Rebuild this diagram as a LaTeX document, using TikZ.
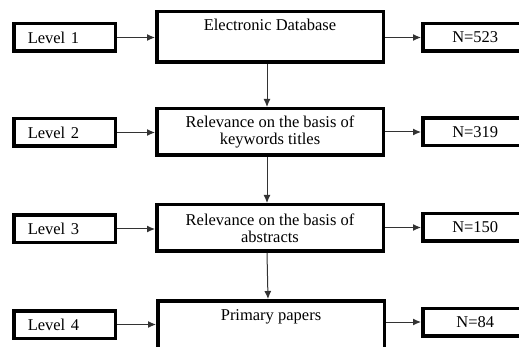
\documentclass[tikz,border=0pt]{standalone}
\usepackage{fontspec}
\setmainfont{Liberation Serif}
\usetikzlibrary{arrows.meta,positioning}

\tikzset{
  lvl/.style={draw, line width=3.5pt, minimum width=101.5pt, minimum height=27.5pt,
    text width=73.5pt, inner xsep=14pt, align=left},
  stage/.style={draw, line width=3.5pt, minimum width=226.5pt, minimum height=46.5pt,
    align=center},
  stagetop/.style={stage, inner ysep=0pt, text height=19.25pt, text depth=31.25pt},
  nbox/.style={draw, line width=3.5pt, minimum width=105pt, minimum height=27.5pt},
  conn/.style={-{Latex[length=8pt,width=7pt]}, line width=1pt, black!80}
}

\begin{document}
\begin{tikzpicture}[x=1pt, y=-1pt, font=\fontsize{16.5}{17}\selectfont]
  \useasboundingbox (0,0) rectangle (519,347);
  \clip (0,0) rectangle (519,347);
  %levels and counts
  \foreach \i/\ly/\ny/\n in {1/37.5/37.5/523, 2/132.5/132/319, 3/229/227.5/150, 4/324.5/322/84}
  {
    \node[lvl] (lv\i) at (64.5,\ly) {Level~\i};
    \node[nbox] (n\i) at (475.25,\ny) {N=\n};
  }
  %stages
  \node[stagetop] (s1) at (270,37) {Electronic Database};
  \node[stage] (s2) at (270,132) {Relevance on the basis of\\keywords titles};
  \node[stage] (s3) at (270,228) {Relevance on the basis of\\abstracts};
  \node[stagetop] (s4) at (271,326) {Primary papers};
  %arrows
  \foreach \i in {1,...,4}
  {
    \draw[conn] (lv\i.east) -- (lv\i.east -| s\i.west);
    \draw[conn] (n\i.west -| s\i.east) -- (n\i.west);
  }
  \foreach \i/\j in {1/2, 2/3, 3/4}
      \draw[conn] ([xshift=-3pt]s\i.south) -- ([xshift=-3pt]s\j.north);
\end{tikzpicture}
\end{document}
